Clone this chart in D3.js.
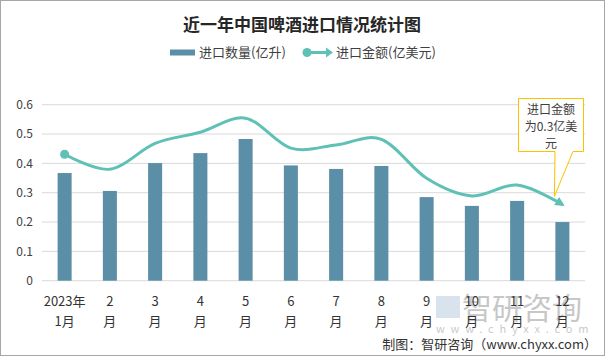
<!DOCTYPE html>
<html><head><meta charset="utf-8">
<script src="https://cdn.jsdelivr.net/npm/d3@7"></script>
<style>body{margin:0;background:#fff}svg{display:block}</style>
</head><body><svg id="c" width="605" height="356"></svg>
<script>
const months = ["2023年\n1月","2\n月","3\n月","4\n月","5\n月","6\n月","7\n月","8\n月","9\n月","10\n月","11\n月","12\n月"];
const volume = [0.367,0.306,0.401,0.435,0.483,0.393,0.381,0.391,0.285,0.255,0.272,0.200];
const amount = [0.431,0.380,0.468,0.506,0.554,0.452,0.463,0.482,0.349,0.289,0.326,0.260];
const yTicks = [0,0.1,0.2,0.3,0.4,0.5,0.6];

const svg = d3.select("#c");
const font = "'Noto Sans CJK SC','Noto Sans',sans-serif";
const W=605,H=356;
svg.append("rect").attr("x",0.5).attr("y",0.5).attr("width",W-1).attr("height",H-1).attr("fill","#fff").attr("stroke","#a6a6a6");

const x = d3.scaleBand().domain(months).range([42,585]).paddingInner(0.69).paddingOuter(0.345);
const y = d3.scaleLinear().domain([0,0.6]).range([280.7,104.7]);

// grid
svg.append("g").selectAll("line").data(yTicks).join("line")
  .attr("x1",42).attr("x2",585).attr("y1",d=>y(d)).attr("y2",d=>y(d))
  .attr("stroke","#d9d9d9").attr("stroke-width",1);

// y labels
svg.append("g").selectAll("text").data(yTicks).join("text")
  .attr("x",33).attr("y",d=>y(d)).attr("dy","0.35em").attr("text-anchor","end")
  .attr("font-family",font).attr("font-size",12).attr("fill","#404040")
  .text(d=>d===0?"0":d3.format(".1f")(d));

// watermark
const wm = svg.append("g").attr("opacity",0.55);
wm.append("rect").attr("x",436).attr("y",296).attr("width",24).attr("height",22).attr("fill","#b9cde0");
wm.append("text").attr("x",462).attr("y",319).attr("font-family",font).attr("font-size",30).attr("fill","#9a9a9a").text("智研咨询");
wm.append("text").attr("x",436).attr("y",333).attr("font-family",font).attr("font-size",11).attr("fill","#a0a0a0").attr("letter-spacing",5.8).text("www.chyxx.com");

// bars
svg.append("g").selectAll("rect").data(volume).join("rect")
  .attr("x",(d,i)=>x(months[i])).attr("width",x.bandwidth())
  .attr("y",d=>y(d)).attr("height",d=>y(0)-y(d)).attr("fill","#5b8fa7");

// x labels
const xl = svg.append("g").selectAll("text").data(months).join("text")
  .attr("text-anchor","middle").attr("font-family",font).attr("font-size",13).attr("fill","#333");
xl.each(function(d){
  const t=d3.select(this); const cx=x(d)+x.bandwidth()/2;
  d.split("\n").forEach((s,k)=>t.append("tspan").attr("x",cx).attr("y",306+k*20).text(s));
});

// line
const defs = svg.append("defs");
defs.append("marker").attr("id","arr").attr("viewBox","0 0 10 10").attr("refX",7).attr("refY",5)
  .attr("markerWidth",3.2).attr("markerHeight",3.2).attr("orient","auto").attr("markerUnits","strokeWidth")
  .append("path").attr("d","M0,0L10,5L0,10Z").attr("fill","#5fc1b6");
const line = d3.line().x((d,i)=>x(months[i])+x.bandwidth()/2).y(d=>y(d)).curve(d3.curveCardinal.tension(0));
svg.append("path").datum(amount).attr("d",line).attr("fill","none").attr("stroke","#5fc1b6")
  .attr("stroke-width",3).attr("marker-end","url(#arr)");
svg.append("circle").attr("cx",x(months[0])+x.bandwidth()/2).attr("cy",y(amount[0])).attr("r",4.5).attr("fill","#5fc1b6");

// callout
const tipX = x(months[11])+x.bandwidth()/2-8, tipY = y(amount[11])-8;
svg.append("path").attr("d",`M518.5,98.5H583.5V151.5H573L${tipX},${tipY}L555,151.5H518.5Z`)
  .attr("fill","#fff").attr("stroke","#ffc000").attr("stroke-width",1);
["进口金额","为0.3亿美","元"].forEach((s,k)=>svg.append("text").attr("x",551).attr("y",114+k*17)
  .attr("text-anchor","middle").attr("font-family",font).attr("font-size",12).attr("fill","#404040").text(s));

// title
svg.append("text").attr("x",302).attr("y",31).attr("text-anchor","middle").attr("font-family",font)
  .attr("font-size",17).attr("font-weight","bold").attr("fill","#262626").text("近一年中国啤酒进口情况统计图");

// legend
svg.append("rect").attr("x",170).attr("y",49.5).attr("width",25).attr("height",6).attr("fill","#5b8fa7");
svg.append("text").attr("x",199).attr("y",57).attr("font-family",font).attr("font-size",13).attr("fill","#404040").text("进口数量(亿升)");
svg.append("line").attr("x1",307).attr("x2",328).attr("y1",52.5).attr("y2",52.5).attr("stroke","#5fc1b6").attr("stroke-width",3);
svg.append("circle").attr("cx",307).attr("cy",52.5).attr("r",4.5).attr("fill","#5fc1b6");
svg.append("path").attr("d","M326,47.5L333,52.5L326,57.5Z").attr("fill","#5fc1b6");
svg.append("text").attr("x",336).attr("y",57).attr("font-family",font).attr("font-size",13).attr("fill","#404040").text("进口金额(亿美元)");

// footer
svg.append("text").attr("x",597).attr("y",349).attr("text-anchor","end").attr("font-family",font)
  .attr("font-size",13).attr("fill","#333").text("制图：智研咨询（www.chyxx.com）");
</script></body></html>
